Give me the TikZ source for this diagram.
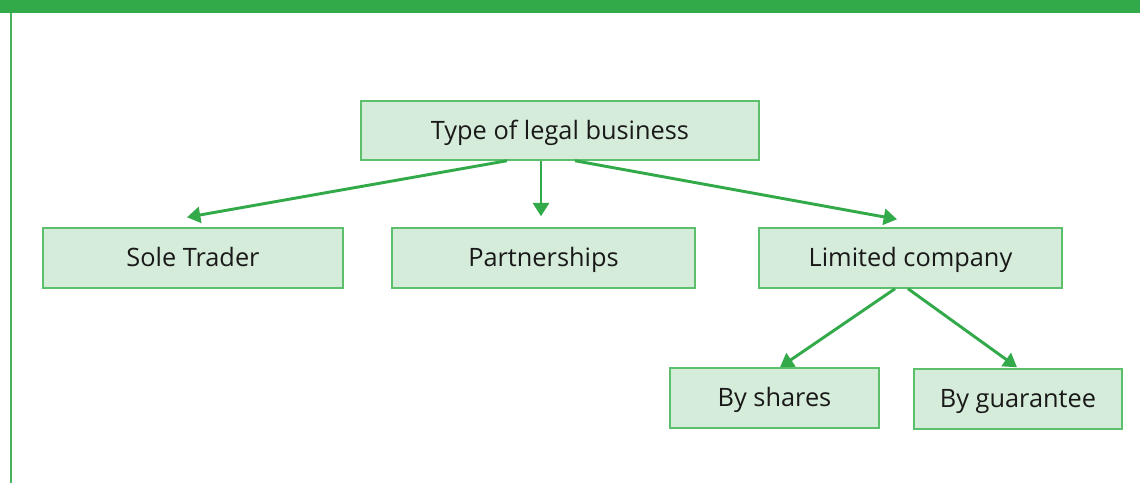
\documentclass[tikz,border=0pt]{standalone}
\usepackage{fontspec}
\setmainfont{Open Sans}
\usetikzlibrary{arrows.meta}
\definecolor{lgreen}{HTML}{33AA4A}
\definecolor{bfill}{HTML}{D6ECDA}
\definecolor{bdraw}{HTML}{5CBF6C}
\tikzset{
  box/.style={draw=bdraw, fill=bfill, line width=1.1pt, inner sep=0pt, font=\fontsize{19}{22}\selectfont, text=black!90, text height=1.3em, text depth=0em},
  conn/.style={draw=lgreen, line width=2.2pt, -{Triangle[width=12pt,length=10pt]}}
}
\begin{document}
\begin{tikzpicture}[x=0.75pt,y=-0.75pt]
\useasboundingbox (0,0) rectangle (1140,483);
\fill[white] (0,0) rectangle (1140,483);
\fill[lgreen] (0,0) rectangle (1140,13);
\draw[lgreen!90, line width=1.3pt] (11,13) -- (11,483);
\node[box, minimum width=398*0.75pt, minimum height=59*0.75pt] (top) at (560,130.5) {Type of legal business};
\node[box, minimum width=300*0.75pt, minimum height=60*0.75pt] (sole) at (193,258) {Sole Trader};
\node[box, minimum width=303*0.75pt, minimum height=60*0.75pt] (part) at (543.5,258) {Partnerships};
\node[box, minimum width=303*0.75pt, minimum height=60*0.75pt] (ltd) at (910.5,258) {Limited company};
\node[box, minimum width=209*0.75pt, minimum height=60*0.75pt] (shares) at (774.5,398) {By shares};
\node[box, minimum width=208*0.75pt, minimum height=60*0.75pt] (guar) at (1018,399) {By guarantee};
\draw[conn] ([xshift=-53*0.75pt]top.south) -- ([xshift=-6*0.75pt,yshift=10*0.75pt]sole.north);
\draw[conn] ([xshift=-19*0.75pt]top.south) -- ([xshift=-2.5*0.75pt,yshift=11*0.75pt]part.north);
\draw[conn] ([xshift=15*0.75pt]top.south) -- ([xshift=-13.5*0.75pt,yshift=8*0.75pt]ltd.north);
\draw[conn] ([xshift=-15.5*0.75pt]ltd.south) -- ([xshift=5.5*0.75pt]shares.north);
\draw[conn] ([xshift=-2.5*0.75pt]ltd.south) -- ([xshift=-1*0.75pt,yshift=1*0.75pt]guar.north);
\end{tikzpicture}
\end{document}
